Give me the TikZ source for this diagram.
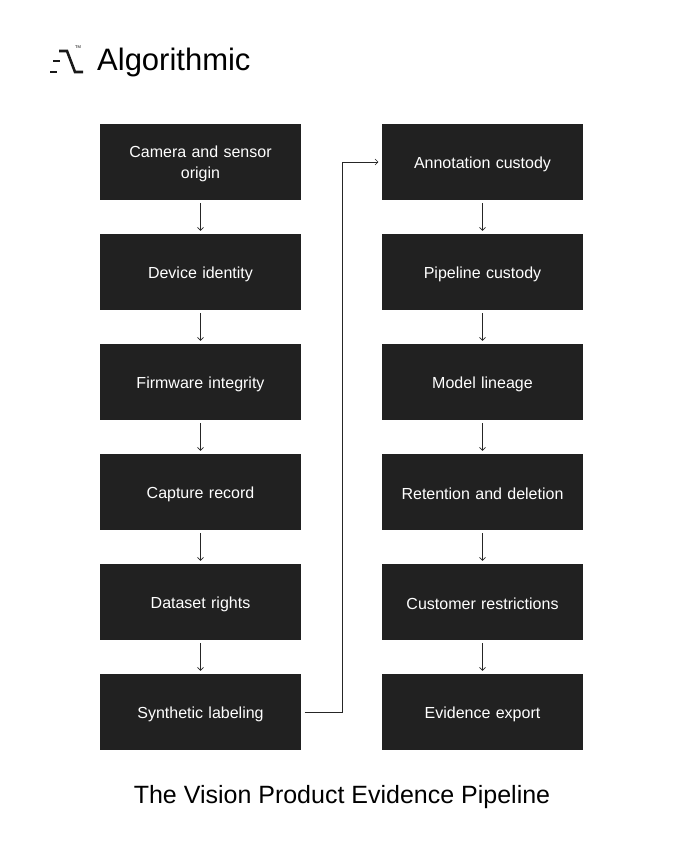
\documentclass[tikz,border=0pt]{standalone}
\usepackage{fontspec}
\setmainfont{Liberation Sans}
\usetikzlibrary{arrows.meta}
\begin{document}
\begin{tikzpicture}[x=1pt,y=-1pt,
  box/.style={draw=none,fill=black!87,minimum width=201pt,minimum height=76pt,text=white,font=\fontsize{16}{21}\selectfont,align=center,text width=195pt},
  arr/.style={draw=black!85,line width=0.6pt,-{Straight Barb[length=3pt,width=6pt]}}]
\useasboundingbox (0,0) rectangle (685,857);
\fill[white] (0,0) rectangle (685,857);
% logo
\begin{scope}[line width=2.6pt,black!90]
\draw (50,72) -- (57,72);
\draw (53,61) -- (60,61);
\draw (59,51) -- (67,51) -- (75,72) -- (83,72);
\end{scope}
\node[inner sep=0pt] (tm) at (78,47) {\fontsize{4}{4}\selectfont TM};
\node[anchor=west,font=\fontsize{31}{33}\selectfont,inner sep=0pt] (logo) at (97,62) {Algorithmic};
% boxes
\foreach \n/\t [count=\i] in {a1/Camera and sensor\\origin,a2/Device identity,a3/Firmware integrity,a4/Capture record,a5/Dataset rights,a6/Synthetic labeling}
  \node[box] (\n) at (200.5,{162+110*(\i-1)}) {};
\foreach \n/\t [count=\i] in {b1/Annotation custody,b2/Pipeline custody,b3/Model lineage,b4/Retention and deletion,b5/Customer restrictions,b6/Evidence export}
  \node[box] (\n) at (482.5,{162+110*(\i-1)}) {};
\foreach \n/\t in {a1/Camera and sensor\\origin,a2/Device identity,a3/Firmware integrity,a4/Capture record,a5/Dataset rights,a6/Synthetic labeling,b1/Annotation custody,b2/Pipeline custody,b3/Model lineage,b4/Retention and deletion,b5/Customer restrictions,b6/Evidence export}
  \node[text=white,font=\fontsize{16}{21}\selectfont,align=center,text width=195pt] (\n-t) at ([yshift=-2pt]\n.center) {\t};
\foreach \p/\q in {a1/a2,a2/a3,a3/a4,a4/a5,a5/a6,b1/b2,b2/b3,b3/b4,b4/b5,b5/b6}
  \draw[arr] ([yshift=-3pt]\p.south) -- ([yshift=3pt]\q.north);
\draw[arr] ([xshift=3pt]a6.east) -- (342,712) -- (342,162) -- ([xshift=-3pt]b1.west);
\node[font=\fontsize{25}{28}\selectfont] (title) at (342,797) {The Vision Product Evidence Pipeline};
\end{tikzpicture}
\end{document}
